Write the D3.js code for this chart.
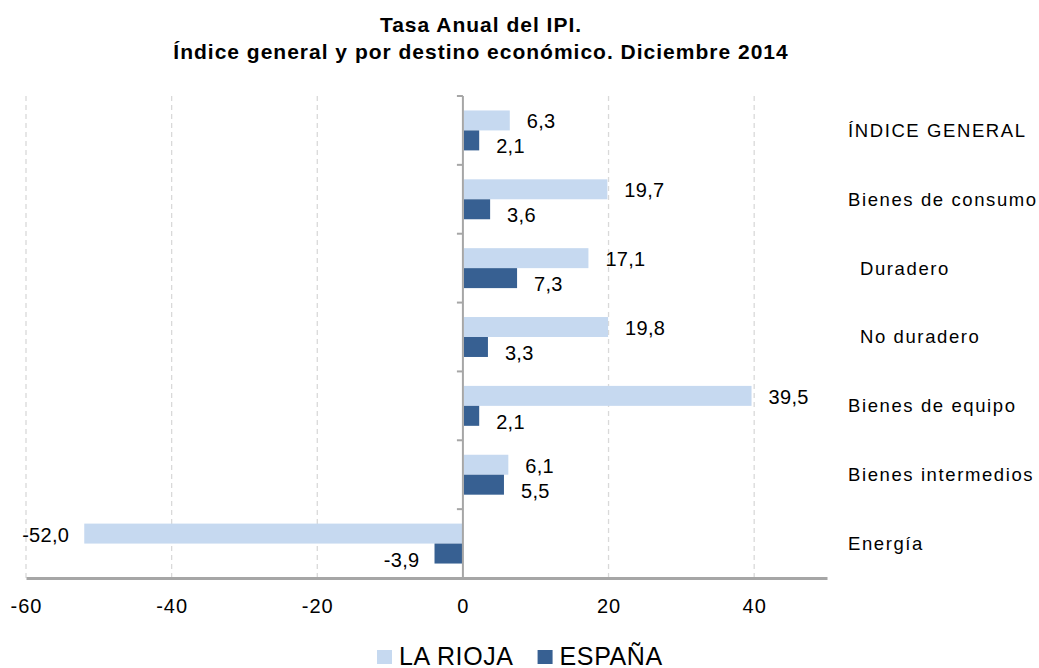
<!DOCTYPE html>
<html>
<head>
<meta charset="utf-8">
<script src="https://cdn.jsdelivr.net/npm/d3@7"></script>
<style>
  body { margin: 0; background: #fff; }
  text { font-family: "Liberation Sans", Arial, sans-serif; fill: #000; }
</style>
</head>
<body>
<div id="chart"></div>
<script>
// Categories (top to bottom) and series values
const categories = ["ÍNDICE GENERAL", "Bienes de consumo", "Duradero", "No duradero",
                    "Bienes de equipo", "Bienes intermedios", "Energía"];
const indented = ["Duradero", "No duradero"];
const series = ["LA RIOJA", "ESPAÑA"];
const laRioja = [6.3, 19.7, 17.1, 19.8, 39.5, 6.1, -52.0];
const espana  = [2.1, 3.6, 7.3, 3.3, 2.1, 5.5, -3.9];
const xTicks = [-60, -40, -20, 0, 20, 40];
const titleLines = ["Tasa Anual del IPI.",
                    "Índice general y por destino económico. Diciembre 2014"];

const colors = { "LA RIOJA": "#c6d9f0", "ESPAÑA": "#376092" };

const W = 1039, H = 668;
const plot = { left: 26, right: 827, top: 96, bottom: 578 };

const svg = d3.select("#chart").append("svg")
    .attr("width", W).attr("height", H);

// Spanish number format, plain hyphen for negatives
const es = d3.formatLocale({ decimal: ",", thousands: ".", grouping: [3], currency: ["", "€"], minus: "-" });
const fmt = es.format(".1f");
const tickFmt = es.format("d");

// Scales
const x = d3.scaleLinear().domain([-60, 50]).range([plot.left, plot.right]);
const y = d3.scaleBand().domain(categories)
    .range([plot.top, plot.bottom])
    .paddingInner(0.42).paddingOuter(0.21);
const ySub = d3.scaleBand().domain(series).range([0, y.bandwidth()]);

const rows = categories.map((c, i) => ({ cat: c, vals: [
    { s: "LA RIOJA", v: laRioja[i] },
    { s: "ESPAÑA", v: espana[i] }
]}));

// Dashed vertical gridlines
svg.append("g").selectAll("line")
    .data(xTicks.filter(t => t !== 0))
    .join("line")
    .attr("x1", d => x(d)).attr("x2", d => x(d))
    .attr("y1", plot.top).attr("y2", plot.bottom)
    .attr("stroke", "#d9d9d9").attr("stroke-width", 1.3)
    .attr("stroke-dasharray", "5,4");

// Bars
const grp = svg.append("g").selectAll("g")
    .data(rows).join("g")
    .attr("transform", d => `translate(0,${y(d.cat)})`);

grp.selectAll("rect")
    .data(d => d.vals).join("rect")
    .attr("x", d => x(Math.min(0, d.v)) + (d.v >= 0 ? 1 : 0))
    .attr("y", d => ySub(d.s))
    .attr("width", d => Math.abs(x(d.v) - x(0)))
    .attr("height", ySub.bandwidth())
    .attr("fill", d => colors[d.s]);

// Value labels
grp.selectAll("text")
    .data(d => d.vals).join("text")
    .attr("x", d => d.v >= 0 ? x(d.v) + 18 : x(d.v) - 15)
    .attr("y", d => ySub(d.s) + ySub.bandwidth() / 2 + (d.s === "ESPAÑA" ? 6 : 1))
    .attr("dy", "0.35em")
    .attr("text-anchor", d => d.v >= 0 ? "start" : "end")
    .style("font-size", "20px")
    .style("letter-spacing", "0.3px")
    .text(d => fmt(d.v));

// Vertical axis at zero with ticks on the left
const yAxis = svg.append("g");
yAxis.append("line")
    .attr("x1", x(0)).attr("x2", x(0))
    .attr("y1", plot.top).attr("y2", plot.bottom)
    .attr("stroke", "#a6a6a6").attr("stroke-width", 2);
yAxis.selectAll("line.tk")
    .data(d3.range(categories.length + 1))
    .join("line").attr("class", "tk")
    .attr("x1", x(0) - 6).attr("x2", x(0))
    .attr("y1", i => plot.top + i * y.step())
    .attr("y2", i => plot.top + i * y.step())
    .attr("stroke", "#a6a6a6").attr("stroke-width", 2);

// Bottom axis
const xAxis = svg.append("g")
    .attr("transform", `translate(0,${plot.bottom})`)
    .call(d3.axisBottom(x).tickValues(xTicks).tickSize(0).tickPadding(21).tickFormat(tickFmt));
xAxis.select(".domain").attr("stroke", "#a6a6a6").attr("stroke-width", 3);
xAxis.selectAll("text")
    .style("font-size", "20px")
    .style("letter-spacing", "1px")
    .style("font-family", "'Liberation Sans', Arial, sans-serif")
    .attr("fill", "#000");

// Category labels on the right
svg.append("g").selectAll("text")
    .data(categories).join("text")
    .attr("x", d => indented.includes(d) ? 860 : 848)
    .attr("y", d => y(d) + y.bandwidth() / 2)
    .attr("dy", "0.35em")
    .style("font-size", "18.5px")
    .style("letter-spacing", "1.6px")
    .text(d => d);

// Title
svg.append("g").selectAll("text")
    .data(titleLines).join("text")
    .attr("x", 481)
    .attr("y", (d, i) => 32 + i * 27)
    .attr("text-anchor", "middle")
    .style("font-size", "21px")
    .style("font-weight", "bold")
    .style("letter-spacing", "1px")
    .text(d => d);

// Legend
const legend = svg.append("g").attr("transform", "translate(377,0)");
let lx = 0;
series.forEach(s => {
    legend.append("rect")
        .attr("x", lx).attr("y", 650)
        .attr("width", 15).attr("height", 14)
        .attr("fill", colors[s]);
    const t = legend.append("text")
        .attr("x", lx + 22).attr("y", 665)
        .style("font-size", "25px")
        .style("letter-spacing", "0.6px")
        .text(s);
    lx += 22 + t.node().getComputedTextLength() + 24;
});
</script>
</body>
</html>
